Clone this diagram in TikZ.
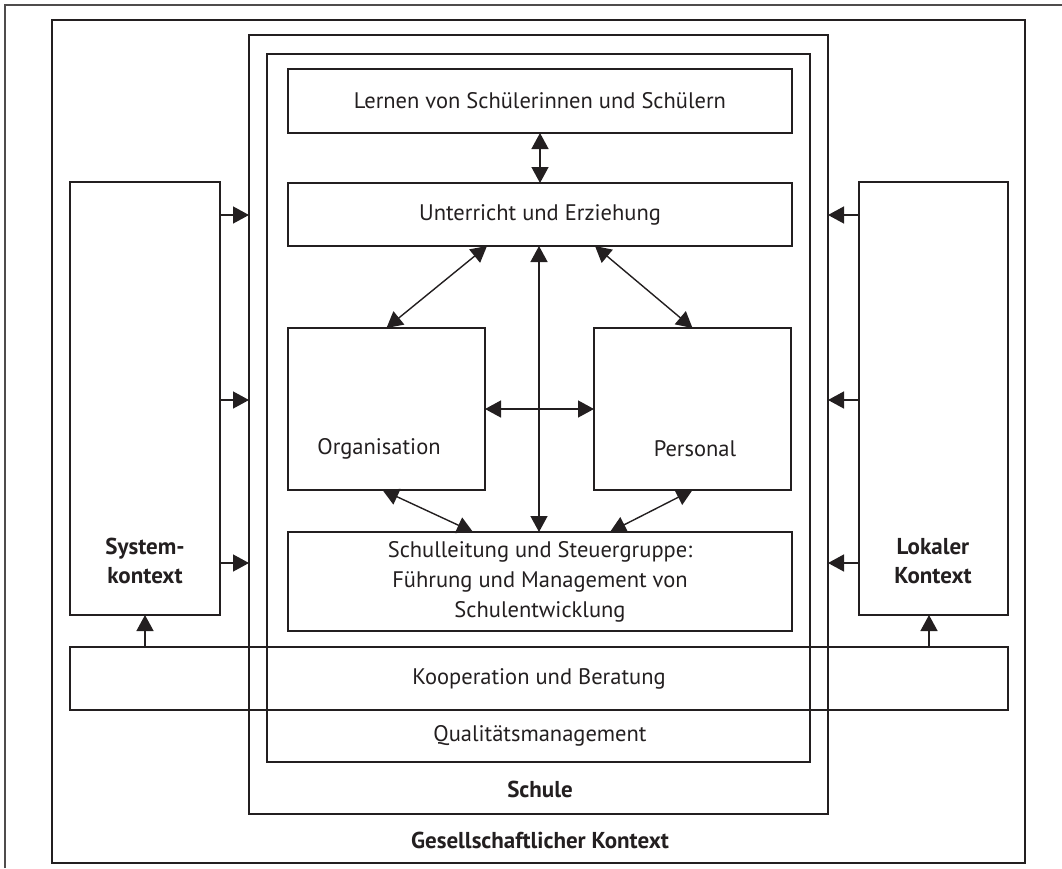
\documentclass[tikz,border=0pt]{standalone}
\usepackage{fontspec}
\setmainfont{PT Sans}
\usetikzlibrary{arrows.meta,calc}
\definecolor{ink}{HTML}{231F20}
\newcommand\dgfont{\fontsize{22.5}{30}\selectfont}
\newcommand\dgbfont{\fontsize{23}{29}\selectfont\bfseries}
\begin{document}
\begin{tikzpicture}[x=1pt,y=-1pt,
  box/.style={draw=ink,line width=1.4pt,rectangle,inner sep=0pt,outer sep=0pt,align=center,font=\dgfont,text=ink},
  frame/.style={box,line width=1.5pt},
  lbl/.style={inner sep=0pt,outer sep=0pt,align=center,font=\dgfont,text=ink},
  blbl/.style={lbl,font=\dgbfont},
  tipA/.tip={Triangle[length=16pt,width=17pt]},
  arr/.style={-tipA,line width=1.4pt,draw=ink,fill=ink},
  dbl/.style={tipA-tipA,line width=1.4pt,draw=ink,fill=ink}]
\useasboundingbox (0,0) rectangle (1062,868);
% outer page frame (only top and left visible)
\draw[ink!80,line width=1.1pt] (5,868) -- (5,5) -- (1062,5);
% frames
\node[frame,minimum width=973pt,minimum height=843pt] (ges) at (538.5,441.5) {};
\node[frame,minimum width=579pt,minimum height=779pt] (schule) at (538.5,424.5) {};
\node[frame,minimum width=543pt,minimum height=708pt] (inner) at (538.5,408) {};
% boxes
\node[box,minimum width=504pt,minimum height=64pt] (lern) at (540,101) {Lernen von Schülerinnen und Schülern};
\node[box,minimum width=504pt,minimum height=63pt] (unt) at (540,214.5) {Unterricht und Erziehung};
\node[box,minimum width=197pt,minimum height=162pt] (org) at (386.5,409) {};
\node[box,minimum width=197pt,minimum height=162pt] (per) at (692.5,409) {};
\node[box,minimum width=504pt,minimum height=99pt] (sl) at (540,581.5) {Schulleitung und Steuergruppe:\\Führung und Management von\\Schulentwicklung};
\node[box,minimum width=150pt,minimum height=433pt] (sys) at (145,398.5) {};
\node[box,minimum width=149pt,minimum height=433pt] (lok) at (933.5,398.5) {};
\node[box,minimum width=938pt,minimum height=63pt] (koop) at (539,678.5) {Kooperation und Beratung};
% labels
\node[lbl] (orgT) at (379,449) {Organisation};
\node[lbl] (perT) at (695,449) {Personal};
\node[blbl] (sysT) at (145,561) {System-\\kontext};
\node[blbl] (lokT) at (933,561) {Lokaler\\Kontext};
\node[lbl] (qmT) at (540,736) {Qualitätsmanagement};
\node[blbl] (schT) at (540,789) {Schule};
\node[blbl] (gesT) at (540,840) {Gesellschaftlicher Kontext};
% inner arrows
\draw[dbl] (lern.south) -- (unt.north);
\draw[dbl] ([xshift=-53pt]unt.south) -- (org.north);
\draw[dbl] ([xshift=55pt]unt.south) -- (per.north);
\draw[dbl] ([xshift=-1pt]unt.south) -- ([xshift=-1pt]sl.north);
\draw[dbl] (org.east) -- (per.west);
\draw[dbl] ([xshift=-4pt]org.south) -- ([xshift=-67pt]sl.north);
\draw[dbl] (per.south) -- ([xshift=70pt]sl.north);
% context arrows
\coordinate (yA) at (0,215);
\coordinate (yB) at (0,400);
\coordinate (yC) at (0,563);
\foreach \c in {yA,yB,yC}{
  \draw[arr] (sys.east |- \c) -- (schule.west |- \c);
  \draw[arr] (lok.west |- \c) -- (schule.east |- \c);
}
\draw[arr] (sys.south |- koop.north) -- (sys.south);
\draw[arr] ([xshift=-4.5pt]lok.south |- koop.north) -- ([xshift=-4.5pt]lok.south);
\end{tikzpicture}
\end{document}
